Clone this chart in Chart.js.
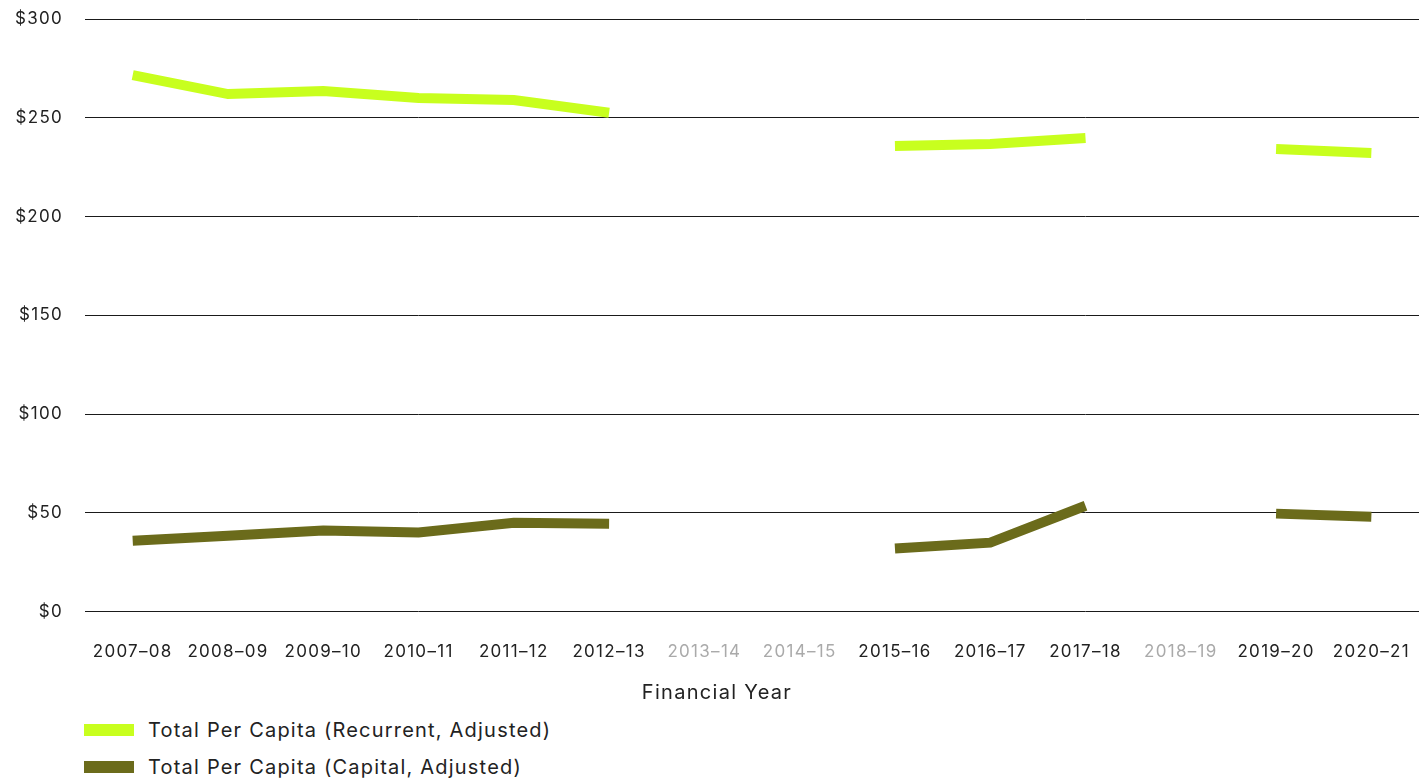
<!DOCTYPE html>
<html>
<head>
<meta charset="utf-8">
<script src="https://cdn.jsdelivr.net/npm/chart.js@4/dist/chart.umd.min.js"></script>
<style>
  body { margin: 0; background: #fff; font-family: Inter, sans-serif; }
  #wrap { position: relative; width: 1419px; height: 710px; }
  #legend { margin: 1px 0 0 84px; padding: 0; list-style: none; }
  #legend li { display: flex; align-items: center; height: 37px; font-size: 20px; letter-spacing: 1.2px; color: #222; }
  #legend span.box { display: inline-block; width: 50px; height: 12px; margin-right: 14px; }
</style>
</head>
<body>
<div id="wrap"><canvas id="spendChart"></canvas></div>
<ul id="legend"></ul>
<script>
// Data
const years = ["2007–08", "2008–09", "2009–10", "2010–11", "2011–12", "2012–13", "2013–14",
  "2014–15", "2015–16", "2016–17", "2017–18", "2018–19", "2019–20", "2020–21"]
const recurrent = [271.6, 262, 263.5, 260, 259, 252.5, null, null, 235.7, 236.7, 239.8, null, 234.2, 232.2]
const capital = [35.9, 38.4, 41, 40, 45, 44.5, null, null, 31.9, 34.9, 53.6, null, 49.6, 48]
const missingYears = ["2013–14", "2014–15", "2018–19"]

const green = "#c8ff1e"
const olive = "#6b6b1b"

Chart.defaults.font.family = "Inter, sans-serif"
Chart.defaults.font.size = 17
Chart.defaults.color = "#222"

// wider tracking like the original typeface
const tracking = {
  id: "tracking",
  beforeLayout(chart) { chart.ctx.letterSpacing = "1.3px" },
  beforeDraw(chart) { chart.ctx.letterSpacing = "1.3px" },
}

const ctx = document.getElementById("spendChart").getContext("2d")
const chart = new Chart(ctx, {
  type: "line",
  plugins: [tracking],
  data: {
    labels: years,
    datasets: [
      {
        label: "Total Per Capita (Recurrent, Adjusted)",
        data: recurrent,
        borderColor: green,
        backgroundColor: green,
        borderWidth: 10,
        pointRadius: 0,
        tension: 0,
      },
      {
        label: "Total Per Capita (Capital, Adjusted)",
        data: capital,
        borderColor: olive,
        backgroundColor: olive,
        borderWidth: 10,
        pointRadius: 0,
        tension: 0,
      },
    ],
  },
  options: {
    responsive: true,
    maintainAspectRatio: false,
    animation: false,
    layout: { padding: { top: 19, left: 15, right: 0 } },
    scales: {
      x: {
        offset: true,
        // ticks hidden, tickLength only used as label spacing
        grid: { display: false, drawTicks: true, tickLength: 30 },
        border: { display: false },
        ticks: {
          padding: 0,
          maxRotation: 0,
          autoSkip: false,
          color: (c) => (missingYears.includes(years[c.index]) ? "#aaa" : "#222"),
        },
      },
      y: {
        min: 0,
        max: 300,
        border: { display: false },
        grid: { color: "#1a1a1a", drawTicks: true, tickLength: 22, tickColor: "transparent" },
        ticks: {
          stepSize: 50,
          padding: 0,
          callback: (v) => "$" + v,
        },
      },
    },
    plugins: {
      legend: { display: false },
      tooltip: { enabled: false },
      title: {
        display: true,
        position: "bottom",
        text: "Financial Year",
        font: { size: 20, weight: "normal" },
        color: "#222",
        padding: { top: 19, bottom: 5 },
      },
    },
  },
})

// Legend stacked below the chart
const legend = document.getElementById("legend")
chart.data.datasets.forEach((ds) => {
  const li = document.createElement("li")
  li.innerHTML = `<span class="box" style="background:${ds.borderColor}"></span>${ds.label}`
  legend.appendChild(li)
})
</script>
</body>
</html>
